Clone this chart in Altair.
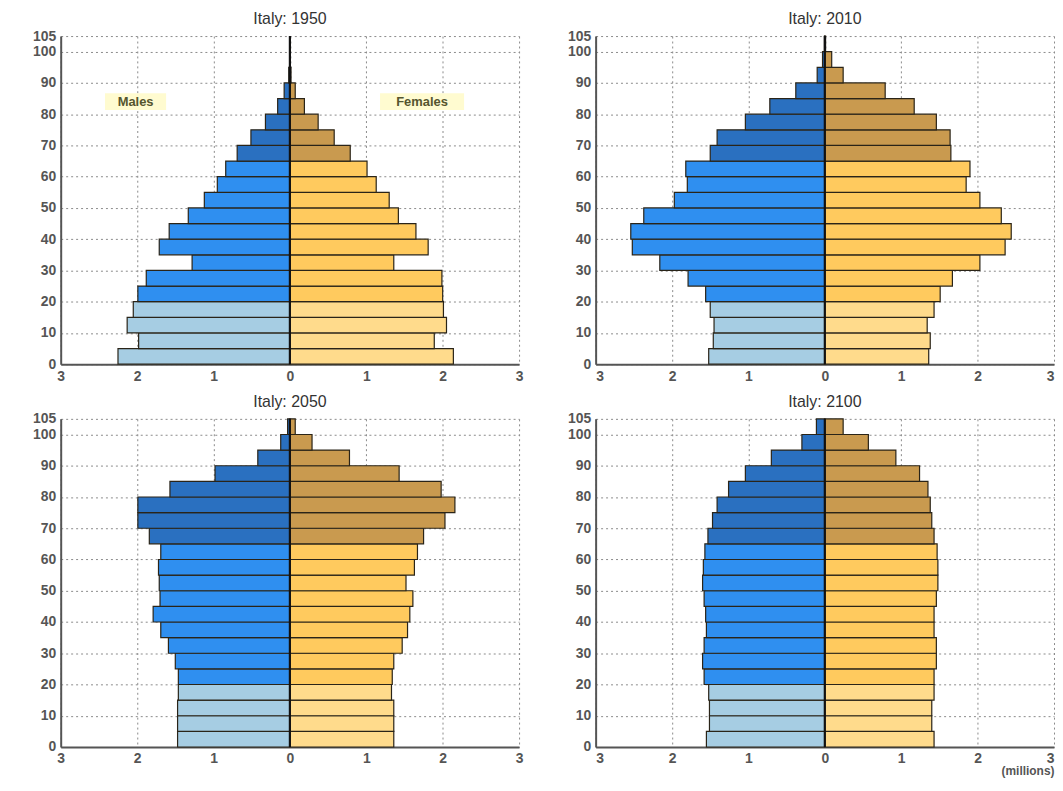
import altair as alt
import pandas as pd

# Age groups (start of 5-year bins); last bin is 100+
age_start = list(range(0, 105, 5))

# Population in millions, ages 0-4 ... 100+
males_1950 = [2.25, 1.98, 2.13, 2.05, 1.99, 1.88, 1.28, 1.71, 1.58, 1.33, 1.12,
              0.95, 0.84, 0.69, 0.51, 0.32, 0.16, 0.075, 0.015, 0.003, 0.0]
females_1950 = [2.14, 1.89, 2.05, 2.01, 2.00, 1.99, 1.36, 1.81, 1.65, 1.42, 1.30,
                1.13, 1.01, 0.79, 0.58, 0.37, 0.19, 0.07, 0.015, 0.003, 0.0]

males_2010 = [1.52, 1.46, 1.45, 1.50, 1.56, 1.79, 2.16, 2.52, 2.54, 2.37, 1.97,
              1.80, 1.82, 1.50, 1.41, 1.04, 0.72, 0.38, 0.10, 0.03, 0.005]
females_2010 = [1.36, 1.38, 1.34, 1.43, 1.51, 1.67, 2.03, 2.36, 2.44, 2.31, 2.03,
                1.85, 1.90, 1.65, 1.64, 1.46, 1.17, 0.79, 0.24, 0.09, 0.01]

males_2050 = [1.47, 1.47, 1.47, 1.46, 1.46, 1.50, 1.59, 1.69, 1.79, 1.70, 1.71,
              1.72, 1.69, 1.84, 1.99, 1.99, 1.57, 0.98, 0.42, 0.12, 0.03]
females_2050 = [1.36, 1.36, 1.36, 1.33, 1.34, 1.36, 1.47, 1.54, 1.57, 1.61, 1.52,
                1.63, 1.67, 1.75, 2.03, 2.16, 1.98, 1.43, 0.78, 0.29, 0.07]

males_2100 = [1.55, 1.51, 1.51, 1.52, 1.58, 1.60, 1.58, 1.55, 1.56, 1.58, 1.60,
              1.59, 1.57, 1.53, 1.47, 1.41, 1.26, 1.04, 0.70, 0.30, 0.11]
females_2100 = [1.43, 1.40, 1.40, 1.43, 1.43, 1.46, 1.46, 1.43, 1.43, 1.46, 1.48,
                1.48, 1.47, 1.43, 1.40, 1.38, 1.35, 1.24, 0.93, 0.57, 0.24]

years = ["1950", "2010", "2050", "2100"]
series = {
    "1950": (males_1950, females_1950),
    "2010": (males_2010, females_2010),
    "2050": (males_2050, females_2050),
    "2100": (males_2100, females_2100),
}

y_ticks = [0, 10, 20, 30, 40, 50, 60, 70, 80, 90, 100, 105]
x_ticks = [-3, -2, -1, 0, 1, 2, 3]

cat_domain = ["M0", "M20", "M65", "F0", "F20", "F65"]
cat_range = ["#a6cde3", "#2f8ff0", "#2a70c0", "#ffdb8c", "#ffca5e", "#c99a4f"]


def band(a):
    if a < 20:
        return "0"
    if a < 65:
        return "20"
    return "65"


rows = []
for y in years:
    m, f = series[y]
    for i, a in enumerate(age_start):
        end = a + 5
        rows.append(dict(year=y, age=a, age_end=end, value=-m[i], zero=0,
                         cat="M" + band(a)))
        rows.append(dict(year=y, age=a, age_end=end, value=f[i], zero=0,
                         cat="F" + band(a)))
df = pd.DataFrame(rows)

W, H = 461, 330
FONT = "Liberation Sans"
XS = alt.Scale(domain=[-3, 3], nice=False, zero=False)
YS = alt.Scale(domain=[0, 105], nice=False)


def panel(y, show_labels=False, millions=False, flush=False):
    d = df[df.year == y]
    xaxis = alt.Axis(values=x_ticks, labelExpr="abs(datum.value)",
                     title="(millions)" if millions else "",
                     labelFlush=flush,
                     titleAnchor="end", titleFontWeight="bold", titleColor="#555",
                     titleFontSize=12, titleFont=FONT, titlePadding=0)
    yaxis = alt.Axis(values=y_ticks, title=None, labelOverlap=False,
                     minExtent=52, maxExtent=52, labelFontSize=14)
    bars = alt.Chart(d).mark_bar(stroke="#2a2418", strokeWidth=1.2).encode(
        x=alt.X("value:Q", scale=XS, axis=xaxis),
        x2="zero:Q",
        y=alt.Y("age:Q", scale=YS, axis=yaxis),
        y2="age_end:Q",
        color=alt.Color("cat:N", scale=alt.Scale(domain=cat_domain, range=cat_range),
                        legend=None),
    )
    center = alt.Chart(pd.DataFrame({"x": [0], "y0": [0], "y1": [105]})).mark_rule(
        color="#111", strokeWidth=2.2).encode(
        x=alt.X("x:Q", scale=XS, axis=xaxis),
        y=alt.Y("y0:Q", scale=YS, axis=yaxis), y2="y1:Q")
    layers = [bars, center]
    if show_labels:
        lab = pd.DataFrame({
            "x0": [-2.42, 1.18], "x1": [-1.62, 2.28],
            "y0": [81.3, 81.3], "y1": [86.7, 86.7],
            "xm": [-2.02, 1.73], "ym": [84, 84],
            "t": ["Males", "Females"],
        })
        bg = alt.Chart(lab).mark_rect(color="#fffbd0").encode(
            x=alt.X("x0:Q", scale=XS, axis=xaxis), x2="x1:Q",
            y=alt.Y("y0:Q", scale=YS, axis=yaxis), y2="y1:Q")
        txt = alt.Chart(lab).mark_text(font=FONT, fontSize=13, fontWeight="bold",
                                       color="#55552e").encode(
            x=alt.X("xm:Q", scale=XS, axis=xaxis),
            y=alt.Y("ym:Q", scale=YS, axis=yaxis), text="t:N")
        layers += [bg, txt]
    return alt.layer(*layers).properties(
        width=W, height=H,
        title=alt.TitleParams(f"Italy: {y}", font=FONT, fontSize=16,
                              fontWeight="normal", color="#333", offset=2),
    )


top = alt.hconcat(panel("1950", show_labels=True), panel("2010", flush=True),
                  spacing=19)
bottom = alt.hconcat(panel("2050"), panel("2100", millions=True, flush=True),
                     spacing=19)
chart = alt.vconcat(top, bottom, spacing=9).properties(
    padding={"left": 0, "top": 0, "right": 0, "bottom": 0}
).configure_view(
    stroke="transparent"
).configure_axis(
    labelFont=FONT, labelFontSize=14, labelFontWeight="bold", labelColor="#555",
    grid=True, gridColor="#8a8a8a", gridDash=[2, 3], gridWidth=1,
    domainColor="#555", domainWidth=2, ticks=False, labelPadding=5,
).configure_title(anchor="middle")

chart.save("out.html", embed_options={"renderer": "svg", "actions": False})
